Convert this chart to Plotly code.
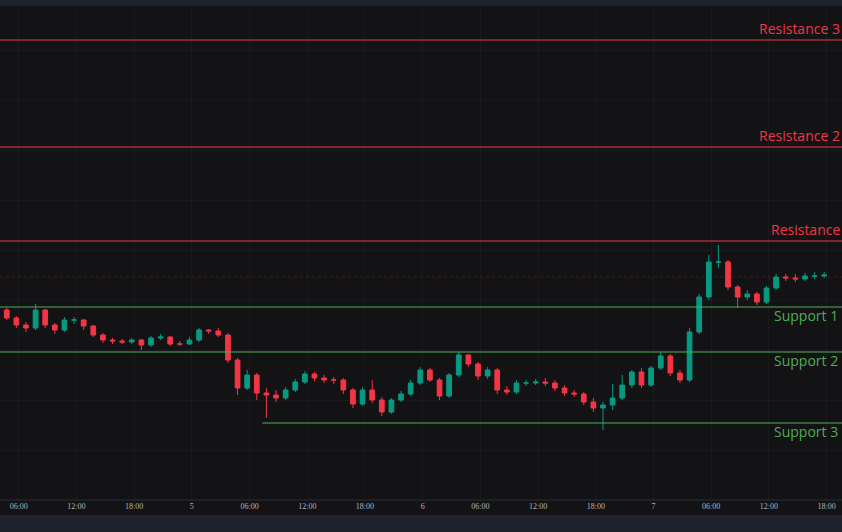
import plotly.graph_objects as go
import pandas as pd

# hourly candles, price units are arbitrary (chart shows no price scale)
start = pd.Timestamp("2024-03-04 04:45")
n_candles = 86

opens_first = 190
closes = [182, 175, 172, 190, 175, 170, 180, 180, 174, 165,
          160, 159, 158, 160, 155, 162, 163, 156, 156, 160,
          170, 169, 165, 140, 112, 125, 107, 105, 102, 110,
          118, 126, 122, 120, 120, 110, 96, 110, 100, 88,
          100, 106, 117, 130, 120, 104, 125, 145, 136, 124,
          130, 110, 108, 117, 117, 118, 117, 112, 107, 106,
          98, 92, 95, 102, 115, 128, 115, 132, 144, 127,
          120, 168, 203, 238, 238, 213, 203, 206, 198, 212,
          223, 222, 221, 224, 224, 225]
highs = [192, 184, 178, 196, 191, 177, 183, 183, 181, 175,
         167, 162, 161, 162, 161, 164, 166, 164, 159, 163,
         172, 171, 172, 167, 142, 130, 127, 112, 110, 113,
         121, 129, 128, 125, 123, 122, 112, 113, 120, 103,
         102, 109, 120, 133, 132, 122, 127, 148, 146, 138,
         133, 132, 114, 120, 120, 121, 122, 120, 115, 110,
         108, 102, 98, 116, 125, 130, 132, 134, 148, 146,
         130, 172, 206, 245, 255, 240, 215, 210, 208, 214,
         226, 226, 226, 227, 228, 228]
lows = [180, 172, 168, 170, 172, 166, 168, 176, 170, 163,
        157, 156, 156, 156, 150, 153, 160, 154, 154, 155,
        158, 166, 163, 137, 105, 110, 100, 82, 98, 100,
        108, 116, 119, 117, 116, 106, 92, 94, 97, 84,
        86, 98, 104, 115, 118, 100, 102, 123, 133, 120,
        121, 106, 105, 106, 114, 115, 114, 109, 104, 103,
        95, 88, 70, 90, 100, 112, 112, 113, 130, 124,
        117, 118, 166, 200, 232, 210, 192, 200, 195, 196,
        210, 219, 218, 219, 221, 222]
opens = [opens_first] + closes[:-1]
times = pd.date_range(start, periods=n_candles, freq="h")

resistance = {"Resistance 3": 460, "Resistance 2": 353, "Resistance": 259}
support = {"Support 1": 193, "Support 2": 148, "Support 3": 77}
last_price = 223
support3_start = pd.Timestamp("2024-03-05 07:20")

RED = "#f23645"
GREEN = "#4caf50"

fig = go.Figure(go.Candlestick(
    x=times, open=opens, high=highs, low=lows, close=closes,
    increasing=dict(line=dict(color="#089981", width=1), fillcolor="#089981"),
    decreasing=dict(line=dict(color=RED, width=1), fillcolor=RED),
    whiskerwidth=0, showlegend=False, hoverinfo="skip"))

x0 = pd.Timestamp("2024-03-04 04:03")
x1 = pd.Timestamp("2024-03-07 19:36")

ticks = pd.date_range("2024-03-04 06:00", "2024-03-07 18:00", freq="6h")
ticktext = [t.strftime("%H:%M") if t.hour else str(t.day) for t in ticks]

shapes = []
annots = []
for name, val in resistance.items():
    shapes.append(dict(type="line", xref="paper", x0=0, x1=1, y0=val, y1=val,
                       line=dict(color=RED, width=1.2)))
    annots.append(dict(x=1, xref="paper", y=val, yref="y",
                       text=name, showarrow=False, xanchor="right", yanchor="bottom",
                       yshift=0, xshift=0, font=dict(color=RED, size=14, family="Open Sans")))
for name, val in support.items():
    xs = support3_start if name == "Support 3" else x0
    shapes.append(dict(type="line", xref="x", x0=xs, x1=x1, y0=val, y1=val,
                       line=dict(color=GREEN, width=1.2)))
    annots.append(dict(x=1, xref="paper", y=val, yref="y",
                       text=name, showarrow=False, xanchor="right", yanchor="top",
                       yshift=3, xshift=-2, font=dict(color=GREEN, size=14, family="Open Sans")))
shapes.append(dict(type="line", xref="paper", x0=0, x1=1, y0=last_price, y1=last_price,
                   line=dict(color="rgba(242,54,69,0.22)", width=1, dash="dot")))
# top strip and bottom toolbar
shapes.append(dict(type="rect", xref="paper", yref="paper", x0=0, x1=1, y0=494 / 500, y1=1,
                   fillcolor="#1e222d", line=dict(width=0), layer="above"))
shapes.append(dict(type="rect", xref="paper", yref="paper", x0=0, x1=1, y0=-32 / 500, y1=-15 / 500,
                   fillcolor="#1e222d", line=dict(width=0), layer="above"))
shapes.append(dict(type="line", xref="paper", yref="paper", x0=0, x1=1, y0=0, y1=0,
                   line=dict(color="#2a2e39", width=1)))

fig.update_layout(
    width=842, height=532,
    margin=dict(l=0, r=0, t=0, b=32),
    paper_bgcolor="#131316", plot_bgcolor="#131316",
    shapes=shapes, annotations=annots,
    xaxis=dict(range=[x0, x1], rangeslider=dict(visible=False), tickvals=ticks,
               ticktext=ticktext, tickfont=dict(color="#b2b5be", size=8, family="Liberation Sans Narrow"),
               showgrid=True, gridcolor="rgba(255,255,255,0.03)", zeroline=False, ticklen=0),
    yaxis=dict(range=[0, 500], showticklabels=False, showgrid=True,
               gridcolor="rgba(255,255,255,0.03)", dtick=50, zeroline=False),
)

fig.write_html("out.html", config={"displayModeBar": False},
               post_script="document.body.style.margin='0';")
